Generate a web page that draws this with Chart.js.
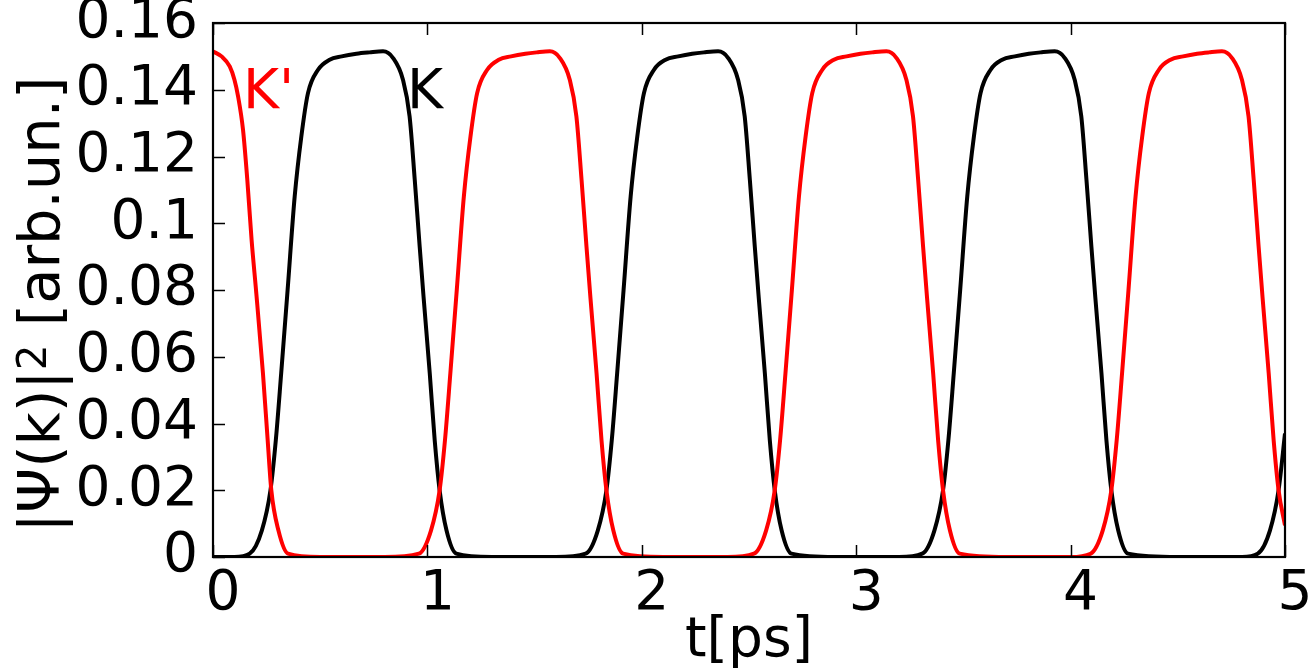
<!DOCTYPE html>
<html>
<head>
<meta charset="utf-8">
<script src="https://cdn.jsdelivr.net/npm/chart.js@4/dist/chart.umd.min.js"></script>
<style>
html,body{margin:0;padding:0;background:#fff;}
#wrap{width:1311px;height:669px;}
</style>
</head>
<body>
<div id="wrap"><canvas id="c" width="1311" height="669"></canvas></div>
<script>
// ---- data ----
const kPrimeTimes = [0,0.04,0.078,0.10,0.117,0.140,0.16,0.18,0.202,0.233,0.255,0.272,0.305,0.35,0.5,0.8,0.960,
  1.017,1.057,1.082,1.107,1.137,1.170,1.201,1.232,1.279,1.333,1.39,1.457,1.51,1.571,1.618,1.664,1.695,1.719,1.742,1.760,1.789,1.812,1.835,1.867,1.913,2.1,2.4,2.523,
  2.58,2.62,2.645,2.67,2.70,2.733,2.764,2.795,2.842,2.896,2.955,3.02,3.075,3.141,3.188,3.234,3.265,3.289,3.312,3.330,3.359,3.382,3.405,3.437,3.483,3.7,4.0,4.093,
  4.15,4.19,4.215,4.24,4.27,4.303,4.334,4.365,4.412,4.466,4.525,4.59,4.645,4.706,4.753,4.799,4.83,4.854,4.877,4.895,4.924,4.947,4.97,5.0];
const kPrimeValues = [0.1515,0.1500,0.1470,0.1430,0.1380,0.1280,0.1130,0.0950,0.0790,0.0550,0.0350,0.0200,0.0080,0.0010,0,0,0.0010,
  0.0080,0.0200,0.0350,0.0550,0.0800,0.1080,0.1260,0.1390,0.1460,0.1490,0.1500,0.1508,0.1512,0.1515,0.1495,0.1430,0.1320,0.1130,0.0930,0.0780,0.0550,0.0350,0.0200,0.0080,0.0010,0,0,0.0010,
  0.0080,0.0200,0.0350,0.0550,0.0800,0.1080,0.1260,0.1390,0.1460,0.1490,0.1500,0.1508,0.1512,0.1515,0.1495,0.1430,0.1320,0.1130,0.0930,0.0780,0.0550,0.0350,0.0200,0.0080,0.0010,0,0,0.0010,
  0.0080,0.0200,0.0350,0.0550,0.0800,0.1080,0.1260,0.1390,0.1460,0.1490,0.1500,0.1508,0.1512,0.1515,0.1495,0.1430,0.1320,0.1130,0.0930,0.0780,0.0550,0.0350,0.0200,0.0095];

const kTimes = [0,0.10,0.171,0.228,0.268,0.293,0.318,0.348,0.381,0.412,0.443,0.490,0.544,0.60,0.669,0.73,0.793,0.840,0.886,0.917,0.941,0.964,0.982,1.011,1.034,1.057,1.089,1.135,1.30,1.60,1.738,
  1.795,1.835,1.860,1.885,1.915,1.948,1.979,2.010,2.057,2.111,2.17,2.235,2.29,2.356,2.403,2.449,2.48,2.504,2.527,2.545,2.574,2.597,2.62,2.652,2.698,2.9,3.2,3.308,
  3.365,3.405,3.430,3.455,3.485,3.518,3.549,3.580,3.627,3.681,3.74,3.805,3.86,3.926,3.973,4.019,4.05,4.074,4.097,4.115,4.144,4.167,4.19,4.222,4.268,4.5,4.8,4.873,
  4.93,4.97,5.0];
const kValues = [0,0,0.0010,0.0080,0.0200,0.0350,0.0550,0.0800,0.1080,0.1260,0.1390,0.1460,0.1490,0.1500,0.1508,0.1512,0.1515,0.1495,0.1430,0.1320,0.1130,0.0930,0.0780,0.0550,0.0350,0.0200,0.0080,0.0010,0,0,0.0010,
  0.0080,0.0200,0.0350,0.0550,0.0800,0.1080,0.1260,0.1390,0.1460,0.1490,0.1500,0.1508,0.1512,0.1515,0.1495,0.1430,0.1320,0.1130,0.0930,0.0780,0.0550,0.0350,0.0200,0.0080,0.0010,0,0,0.0010,
  0.0080,0.0200,0.0350,0.0550,0.0800,0.1080,0.1260,0.1390,0.1460,0.1490,0.1500,0.1508,0.1512,0.1515,0.1495,0.1430,0.1320,0.1130,0.0930,0.0780,0.0550,0.0350,0.0200,0.0080,0.0010,0,0,0.0010,
  0.0080,0.0200,0.0370];

const xTickValues = [0,1,2,3,4,5];
const yTickValues = [0,0.02,0.04,0.06,0.08,0.1,0.12,0.14,0.16];
const seriesLabels = ["K'", "K"];
const xTitle = "t[ps]";
const yTitleParts = ["|\u03A8(k)|", "2", " [arb.un.]"];

// ---- build chart ----
const FONT = "'DejaVu Sans', sans-serif";
const FS = 55;
Chart.defaults.color = '#000';
Chart.defaults.font.family = FONT;

const toPts = (ts, vs) => ts.map((t, i) => ({x: t, y: vs[i]}));

const frameAndTicks = {
  id: 'frameAndTicks',
  afterDatasetsDraw(chart) {
    const {ctx, chartArea: a, scales: {x, y}} = chart;
    ctx.save();
    ctx.strokeStyle = '#000';
    ctx.lineWidth = 1.5;
    ctx.beginPath();
    xTickValues.forEach(v => {
      const px = Math.round(x.getPixelForValue(v)) + 0.5;
      ctx.moveTo(px, a.bottom); ctx.lineTo(px, a.bottom - 12);
      ctx.moveTo(px, a.top); ctx.lineTo(px, a.top + 12);
    });
    yTickValues.forEach(v => {
      const py = Math.round(y.getPixelForValue(v)) + 0.5;
      ctx.moveTo(a.left, py); ctx.lineTo(a.left + 12, py);
    });
    ctx.stroke();
    ctx.lineWidth = 2.2;
    ctx.strokeRect(a.left, a.top, a.right - a.left, a.bottom - a.top);
    ctx.font = FS + "px " + FONT;
    ctx.textBaseline = 'alphabetic';
    ctx.textAlign = 'left';
    ctx.fillStyle = '#ff0000';
    ctx.fillText(seriesLabels[0], x.getPixelForValue(0.14), y.getPixelForValue(0.1346));
    ctx.fillStyle = '#000';
    ctx.fillText(seriesLabels[1], x.getPixelForValue(0.905), y.getPixelForValue(0.1346));
    ctx.restore();
  },
  afterDraw(chart) {
    // rotated y-axis title with a raised superscript 2
    const {ctx, chartArea: a} = chart;
    ctx.save();
    const mainFS = 57.5, supFS = 40.5;
    const mainFont = mainFS + "px " + FONT, supFont = supFS + "px " + FONT;
    ctx.font = mainFont; const w0 = ctx.measureText(yTitleParts[0]).width;
    ctx.font = supFont;  const w1 = ctx.measureText(yTitleParts[1]).width;
    ctx.font = mainFont; const w2 = ctx.measureText(yTitleParts[2]).width;
    const total = w0 + w1 + w2;
    const cy = (a.top + a.bottom) / 2 + 14.5;
    ctx.translate(59, cy);
    ctx.rotate(-Math.PI / 2);
    ctx.fillStyle = '#000';
    ctx.textBaseline = 'alphabetic';
    ctx.textAlign = 'left';
    let xx = -total / 2;
    ctx.font = mainFont; ctx.fillText(yTitleParts[0], xx, 0); xx += w0;
    ctx.font = supFont;  ctx.fillText(yTitleParts[1], xx, -13); xx += w1;
    ctx.font = mainFont; ctx.fillText(yTitleParts[2], xx, 0);
    ctx.restore();
  }
};

new Chart(document.getElementById('c'), {
  type: 'line',
  data: {
    datasets: [
      { label: seriesLabels[0], data: toPts(kPrimeTimes, kPrimeValues), borderColor: '#ff0000', borderWidth: 4,
        pointRadius: 0, cubicInterpolationMode: 'monotone', fill: false },
      { label: seriesLabels[1], data: toPts(kTimes, kValues), borderColor: '#000000', borderWidth: 4,
        pointRadius: 0, cubicInterpolationMode: 'monotone', fill: false }
    ]
  },
  options: {
    responsive: false,
    animation: false,
    devicePixelRatio: 1,
    layout: { padding: { top: 23, right: 26, left: 0, bottom: 0 } },
    plugins: { legend: { display: false }, tooltip: { enabled: false } },
    scales: {
      x: {
        type: 'linear', min: 0, max: 5,
        afterBuildTicks: s => { s.ticks = xTickValues.map(v => ({value: v})); },
        ticks: { font: { size: FS }, padding: 5, labelOffset: 10, maxRotation: 0, autoSkip: false,
                 callback: v => String(v) },
        grid: { display: false, drawTicks: false },
        border: { display: false },
        title: { display: true, text: xTitle, font: { size: FS, lineHeight: 1.0 }, padding: { top: 0, bottom: 0 } },
        afterFit: s => { s.height = 112; s.paddingLeft = 0; s.paddingRight = 0; }
      },
      y: {
        type: 'linear', min: 0, max: 0.16,
        afterBuildTicks: s => { s.ticks = yTickValues.map(v => ({value: v})); },
        ticks: { font: { size: FS }, padding: 15, autoSkip: false,
                 callback: v => String(+Number(v).toFixed(2)) },
        grid: { display: false, drawTicks: false },
        border: { display: false },
        title: { display: false },
        afterFit: s => { s.width = 213; s.paddingTop = 0; s.paddingBottom = 0; }
      }
    }
  },
  plugins: [frameAndTicks]
});
</script>
</body>
</html>
